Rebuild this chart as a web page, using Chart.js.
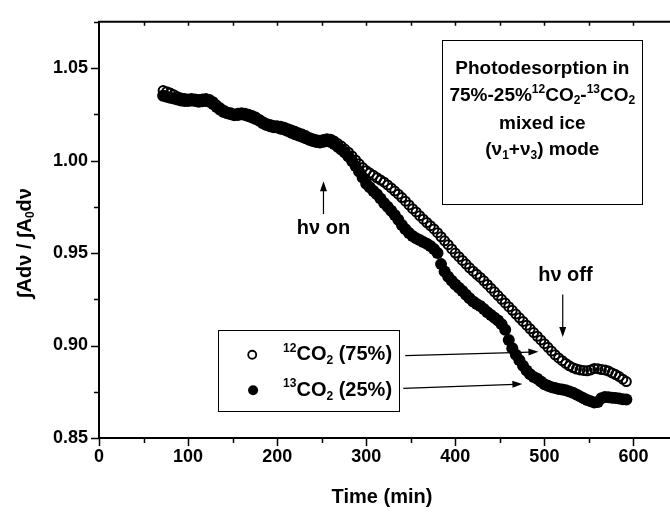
<!DOCTYPE html>
<html>
<head>
<meta charset="utf-8">
<style>
  html, body { margin: 0; padding: 0; overflow: hidden; background: #fff; width: 670px; height: 518px; }
  #wrap { position: relative; width: 690px; height: 518px; }
</style>
<script src="https://cdn.jsdelivr.net/npm/chart.js@4.4.1/dist/chart.umd.min.js"></script>
</head>
<body>
<div id="wrap"><canvas id="c" width="690" height="518"></canvas></div>
<script>
// Irradiation time (min)
const times = [
  72, 76, 80, 84, 88, 92, 96, 100, 104, 108,
  112, 116, 120, 124, 128, 132, 136, 140, 144, 148,
  152, 156, 160, 164, 168, 172, 176, 180, 184, 188,
  192, 196, 200, 204, 208, 212, 216, 220, 224, 228,
  232, 236, 240, 244, 248, 252, 256, 260, 264, 268,
  272, 276, 280, 284, 288, 292, 296,
  300, 304, 308, 312, 316, 320, 324, 328, 332, 336,
  340, 344, 348, 352, 356, 360, 364, 368, 372, 376,
  380, 384, 388, 392, 396, 400, 404, 408, 412, 416,
  420, 424, 428, 432, 436, 440, 444, 448, 452, 456,
  460, 464, 468, 472, 476, 480, 484, 488, 492, 496,
  500, 504, 508, 512, 516, 520, 524, 528, 532, 536,
  540, 544, 548, 552, 556, 560, 564, 568, 572, 576,
  580, 584, 588, 592
];

// Normalised integrated band area, 12CO2 (75%)
const co2_12 = [
  1.0378, 1.0372, 1.0365, 1.0355, 1.0345, 1.0338, 1.0335, 1.0333, 1.0335, 1.0333,
  1.0330, 1.0332, 1.0335, 1.0330, 1.0318, 1.0300, 1.0285, 1.0272, 1.0262, 1.0258,
  1.0252, 1.0255, 1.0258, 1.0255, 1.0250, 1.0243, 1.0235, 1.0222, 1.0210, 1.0200,
  1.0195, 1.0190, 1.0188, 1.0185, 1.0180, 1.0172, 1.0165, 1.0158, 1.0150, 1.0143,
  1.0135, 1.0125, 1.0118, 1.0112, 1.0110, 1.0114, 1.0118, 1.0115, 1.0105, 1.0092,
  1.0078, 1.0062, 1.0045, 1.0025, 1.0003, 0.9982, 0.9962,
  0.9945, 0.9932, 0.9920, 0.9907, 0.9895, 0.9883, 0.9868, 0.9852, 0.9835, 0.9818,
  0.9800, 0.9780, 0.9760, 0.9740, 0.9722, 0.9702, 0.9683, 0.9665, 0.9648, 0.9630,
  0.9610, 0.9588, 0.9566, 0.9545, 0.9522, 0.9500, 0.9480, 0.9460, 0.9440, 0.9420,
  0.9402, 0.9385, 0.9368, 0.9350, 0.9330, 0.9310, 0.9290, 0.9270, 0.9250, 0.9230,
  0.9210, 0.9190, 0.9170, 0.9150, 0.9130, 0.9110, 0.9090, 0.9070, 0.9050, 0.9030,
  0.9010, 0.8990, 0.8970, 0.8950, 0.8933, 0.8918, 0.8903, 0.8890, 0.8880, 0.8873,
  0.8868, 0.8865, 0.8863, 0.8868, 0.8876, 0.8875, 0.8870, 0.8868, 0.8862, 0.8852,
  0.8843, 0.8832, 0.8818, 0.8805
];

// Normalised integrated band area, 13CO2 (25%)
const co2_13 = [
  1.0350, 1.0345, 1.0340, 1.0335, 1.0330, 1.0325, 1.0322, 1.0322, 1.0325, 1.0322,
  1.0318, 1.0320, 1.0322, 1.0318, 1.0305, 1.0290, 1.0275, 1.0262, 1.0255, 1.0250,
  1.0245, 1.0246, 1.0250, 1.0246, 1.0240, 1.0232, 1.0225, 1.0215, 1.0202, 1.0192,
  1.0185, 1.0180, 1.0178, 1.0172, 1.0168, 1.0160, 1.0150, 1.0142, 1.0135, 1.0128,
  1.0120, 1.0112, 1.0105, 1.0100, 1.0098, 1.0102, 1.0106, 1.0100, 1.0090, 1.0075,
  1.0060, 1.0043, 1.0022, 0.9998, 0.9970, 0.9940, 0.9908,
  0.9875, 0.9855, 0.9835, 0.9818, 0.9795, 0.9770, 0.9750, 0.9728, 0.9705, 0.9680,
  0.9652, 0.9628, 0.9608, 0.9592, 0.9580, 0.9570, 0.9560, 0.9550, 0.9538, 0.9522,
  0.9500, 0.9440, 0.9400, 0.9372, 0.9350, 0.9330, 0.9312, 0.9295, 0.9275, 0.9255,
  0.9238, 0.9225, 0.9213, 0.9198, 0.9180, 0.9165, 0.9150, 0.9135, 0.9115, 0.9085,
  0.9030, 0.8985, 0.8950, 0.8920, 0.8890, 0.8865, 0.8845, 0.8830, 0.8820, 0.8805,
  0.8790, 0.8782, 0.8775, 0.8770, 0.8765, 0.8762, 0.8758, 0.8752, 0.8745, 0.8735,
  0.8725, 0.8715, 0.8705, 0.8698, 0.8692, 0.8695, 0.8715, 0.8722, 0.8720, 0.8718,
  0.8716, 0.8714, 0.8710, 0.8708
];

// Axis ranges and tick spacing
const xRange = [0, 650];
const xStep = 50;
const xLabelEvery = 100;
const yRange = [0.85, 1.075];
const yStep = 0.025;

const FAM = '"Liberation Sans", Arial, Helvetica, sans-serif';

// Text made of normal, superscript and subscript runs
function drawRuns(ctx, runs, x, y, size, align) {
  const big = `bold ${size}px ${FAM}`;
  const small = `bold ${Math.round(size * 0.62)}px ${FAM}`;
  let w = 0;
  const parts = runs.map(([s, k]) => {
    ctx.font = k ? small : big;
    const m = ctx.measureText(s).width;
    w += m;
    return [s, k, m];
  });
  let cx = align === 'left' ? x : x - w / 2;
  ctx.textBaseline = 'middle';
  ctx.textAlign = 'left';
  parts.forEach(([s, k, m]) => {
    ctx.font = k ? small : big;
    const dy = k === 'sup' ? -size * 0.32 : k === 'sub' ? size * 0.3 : 0;
    ctx.fillText(s, cx, y + dy);
    cx += m;
  });
}

function arrow(ctx, x1, y1, x2, y2) {
  const ang = Math.atan2(y2 - y1, x2 - x1);
  const L = 10, H = 3.5;
  ctx.lineWidth = 1.2;
  ctx.beginPath();
  ctx.moveTo(x1, y1);
  ctx.lineTo(x2 - Math.cos(ang) * L * 0.8, y2 - Math.sin(ang) * L * 0.8);
  ctx.stroke();
  ctx.beginPath();
  ctx.moveTo(x2, y2);
  ctx.lineTo(x2 - Math.cos(ang) * L - Math.sin(ang) * H, y2 - Math.sin(ang) * L + Math.cos(ang) * H);
  ctx.lineTo(x2 - Math.cos(ang) * L + Math.sin(ang) * H, y2 - Math.sin(ang) * L - Math.cos(ang) * H);
  ctx.closePath();
  ctx.fill();
}

const isMajorX = v => Math.abs(v % xLabelEvery) < 1e-9;
const isMajorY = v => Math.round(v / yStep) % 2 === 0;

// Frame, tick marks, axis titles and annotations
const decor = {
  id: 'decor',
  afterDraw(chart) {
    const { ctx, chartArea: a, scales: { x, y } } = chart;
    const X = v => x.getPixelForValue(v);
    const Y = v => y.getPixelForValue(v);
    ctx.save();
    ctx.strokeStyle = '#000';
    ctx.fillStyle = '#000';

    // top frame line
    ctx.lineWidth = 2;
    ctx.beginPath();
    ctx.moveTo(a.left - 1, a.top);
    ctx.lineTo(a.right, a.top);
    ctx.stroke();

    // tick marks
    ctx.lineWidth = 1.5;
    x.ticks.forEach(t => {
      const px = Math.round(X(t.value)) + 0.5;
      const len = isMajorX(t.value) ? 8 : 5;
      ctx.beginPath();
      ctx.moveTo(px, a.bottom);
      ctx.lineTo(px, a.bottom + len);
      if (t.value > xRange[0]) {
        ctx.moveTo(px, a.top);
        ctx.lineTo(px, a.top + 4);
      }
      ctx.stroke();
    });
    y.ticks.forEach(t => {
      const py = Math.round(Y(t.value)) + 0.5;
      const len = isMajorY(t.value) ? 8 : 5;
      ctx.beginPath();
      ctx.moveTo(a.left, py);
      ctx.lineTo(a.left - len, py);
      ctx.stroke();
    });

    // axis titles
    drawRuns(ctx, [['Time (min)']], 382, 497, 20);
    ctx.save();
    ctx.translate(25, 243);
    ctx.rotate(-Math.PI / 2);
    drawRuns(ctx, [['\u222BAd\u03BD / \u222BA'], ['0', 'sub'], ['d\u03BD']], 0, 0, 20);
    ctx.restore();

    // description box
    ctx.lineWidth = 1;
    const bx1 = X(385.4), bx2 = X(610), by1 = Y(1.0653), by2 = Y(0.9765);
    ctx.strokeRect(Math.round(bx1) + 0.5, Math.round(by1) + 0.5, Math.round(bx2 - bx1), Math.round(by2 - by1));
    const bc = (bx1 + bx2) / 2;
    drawRuns(ctx, [['Photodesorption in']], bc, Y(1.0495), 19);
    drawRuns(ctx, [['75%-25%'], ['12', 'sup'], ['CO'], ['2', 'sub'], ['-'], ['13', 'sup'], ['CO'], ['2', 'sub']], bc, Y(1.0352), 19);
    drawRuns(ctx, [['mixed ice']], bc, Y(1.0200), 19);
    drawRuns(ctx, [['(\u03BD'], ['1', 'sub'], ['+\u03BD'], ['3', 'sub'], [') mode']], bc, Y(1.0057), 19);

    // legend box
    const lx1 = X(133.7), lx2 = X(337.1), ly1 = Y(0.9083), ly2 = Y(0.8647);
    ctx.strokeRect(Math.round(lx1) + 0.5, Math.round(ly1) + 0.5, Math.round(lx2 - lx1), Math.round(ly2 - ly1));
    ctx.beginPath();
    ctx.lineWidth = 1.8;
    ctx.arc(X(172), Y(0.895), 4, 0, Math.PI * 2);
    ctx.stroke();
    ctx.beginPath();
    ctx.arc(X(173), Y(0.8758), 5, 0, Math.PI * 2);
    ctx.fill();
    drawRuns(ctx, [['12', 'sup'], ['CO'], ['2', 'sub'], [' (75%)']], X(206.7), Y(0.895), 20, 'left');
    drawRuns(ctx, [['13', 'sup'], ['CO'], ['2', 'sub'], [' (25%)']], X(206.7), Y(0.8758), 20, 'left');

    // arrows from legend to curves
    arrow(ctx, X(343.8), Y(0.8945), X(493.3), Y(0.8966));
    arrow(ctx, X(341.6), Y(0.8768), X(475.3), Y(0.8792));

    // lamp on / off markers
    arrow(ctx, X(252), Y(0.9711), X(252), Y(0.9888));
    drawRuns(ctx, [['h\u03BD on']], X(252), Y(0.9631), 20);
    arrow(ctx, X(520.6), Y(0.9276), X(520.6), Y(0.9046));
    drawRuns(ctx, [['h\u03BD off']], X(523.6), Y(0.9381), 20);

    ctx.restore();
  }
};

const pts = vals => times.map((t, i) => ({ x: t, y: vals[i] }));

new Chart(document.getElementById('c'), {
  type: 'scatter',
  data: {
    datasets: [
      {
        label: '12CO2 (75%)',
        data: pts(co2_12),
        pointStyle: 'circle',
        pointRadius: 4.5,
        pointBorderWidth: 2,
        borderColor: '#000',
        backgroundColor: 'rgba(0,0,0,0)',
        pointBorderColor: '#000',
        pointBackgroundColor: 'rgba(0,0,0,0)',
        order: 0
      },
      {
        label: '13CO2 (25%)',
        data: pts(co2_13),
        pointStyle: 'circle',
        pointRadius: 6,
        pointBorderWidth: 0,
        borderColor: '#000',
        backgroundColor: '#000',
        pointBorderColor: '#000',
        pointBackgroundColor: '#000',
        order: 1
      }
    ]
  },
  options: {
    responsive: false,
    animation: false,
    devicePixelRatio: 1,
    layout: { padding: { top: 15, right: 12, left: 0, bottom: 0 } },
    plugins: { legend: { display: false }, tooltip: { enabled: false } },
    scales: {
      x: {
        type: 'linear',
        min: xRange[0],
        max: xRange[1],
        afterFit: s => { s.height = 80; },
        grid: { display: false, drawTicks: false },
        border: { display: true, color: '#000', width: 2 },
        ticks: {
          stepSize: xStep,
          autoSkip: false,
          maxRotation: 0,
          padding: 8,
          color: '#000',
          font: { family: FAM, size: 18, weight: 'bold' },
          callback: v => isMajorX(v) ? String(v) : ''
        }
      },
      y: {
        type: 'linear',
        min: yRange[0],
        max: yRange[1],
        afterFit: s => { s.width = 99; },
        grid: { display: false, drawTicks: false },
        border: { display: true, color: '#000', width: 2 },
        ticks: {
          stepSize: yStep,
          autoSkip: false,
          padding: 11,
          color: '#000',
          font: { family: FAM, size: 18, weight: 'bold' },
          callback: v => isMajorY(v) ? v.toFixed(2) : ''
        }
      }
    }
  },
  plugins: [decor]
});
</script>
</body>
</html>
